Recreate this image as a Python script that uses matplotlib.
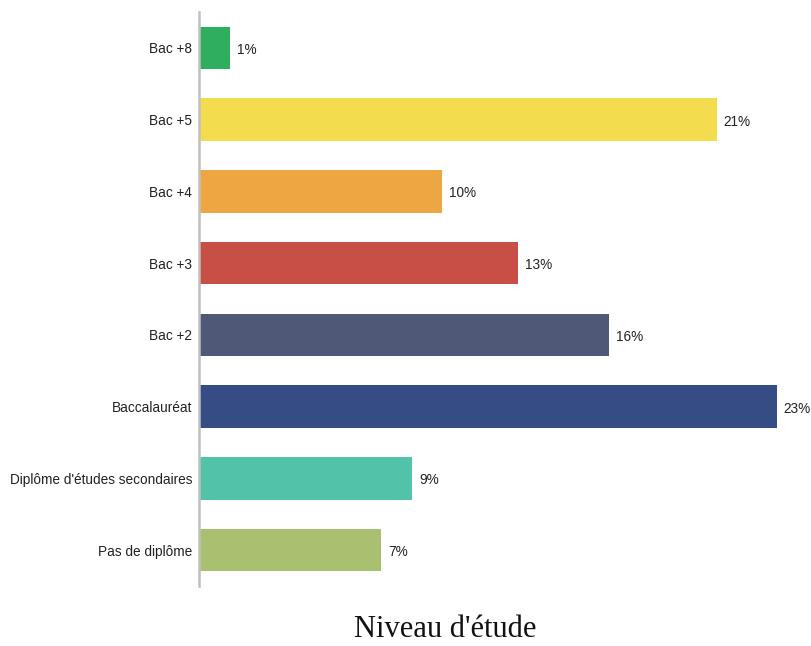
import matplotlib
matplotlib.use("Agg")
import matplotlib.pyplot as plt

categories = ["Bac +8", "Bac +5", "Bac +4", "Bac +3", "Bac +2",
              "Baccalauréat", "Diplôme d'études secondaires", "Pas de diplôme"]
values = [1.23, 20.7, 9.73, 12.76, 16.4, 23.1, 8.52, 7.28]
value_labels = ["1%", "21%", "10%", "13%", "16%", "23%", "9%", "7%"]
colors = ["#2fae60", "#f3dd4f", "#eea642", "#c84f45", "#4f5876",
          "#354c85", "#52c2a9", "#a9c070"]
title = "Niveau d'étude"

W, H = 811, 646
fig = plt.figure(figsize=(W / 100, H / 100), dpi=100)
ax = fig.add_axes([199 / W, (H - 586) / H, 600 / W, 574 / H])

y = list(range(len(categories)))
bars = ax.barh(y, values, height=0.59, color=colors, edgecolor="none")
ax.set_xlim(0, 24)
ax.set_ylim(len(categories) - 0.5, -0.5)

for bar, lab in zip(bars, value_labels):
    ax.annotate(lab, (bar.get_width(), bar.get_y() + bar.get_height() / 2),
                xytext=(7, -2), textcoords="offset pixels", va="center", ha="left",
                fontsize=9.8, family="Liberation Sans", color="#222222")

ax.set_yticks(y)
ax.set_yticklabels(categories, fontsize=9.8, family="Liberation Sans", color="#222222")
ax.tick_params(axis="y", length=0, pad=5)
ax.set_xticks([])
for s in ["top", "right", "bottom"]:
    ax.spines[s].set_visible(False)
ax.spines["left"].set_color("#c0c0c0")
ax.spines["left"].set_linewidth(1.8)

fig.text(445 / W, (H - 637) / H, title, ha="center", va="baseline",
         fontsize=22, family="Liberation Serif", color="#111111")

fig.savefig("out.png", dpi=100)
